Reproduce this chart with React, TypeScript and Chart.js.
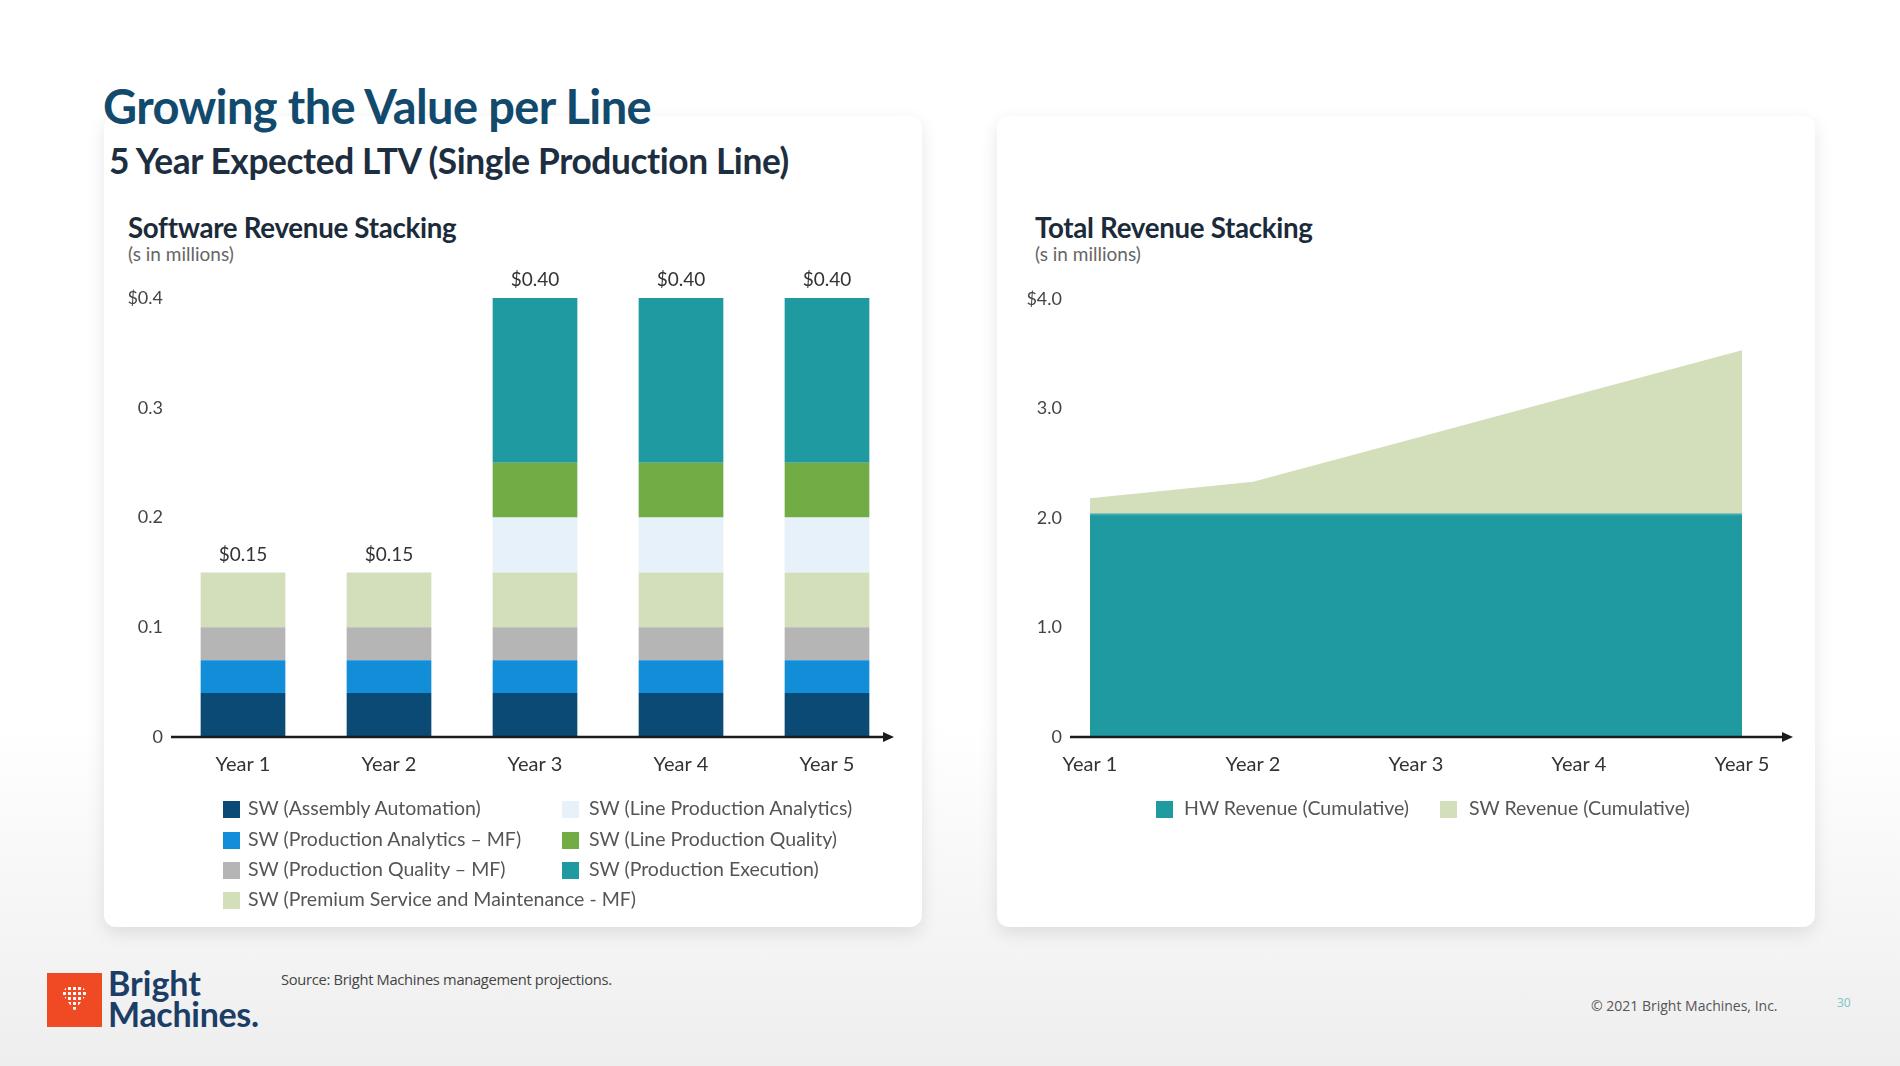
import React, { useEffect, useRef } from "react";
import { Chart, registerables } from "chart.js";

Chart.register(...registerables);

// ---------- DATA ----------
const years = ["Year 1", "Year 2", "Year 3", "Year 4", "Year 5"];

const swSeriesNames = [
  "SW (Assembly Automation)",
  "SW (Production Analytics – MF)",
  "SW (Production Quality – MF)",
  "SW (Premium Service and Maintenance - MF)",
  "SW (Line Production Analytics)",
  "SW (Line Production Quality)",
  "SW (Production Execution)",
];
const assemblyAutomation = [0.04, 0.04, 0.04, 0.04, 0.04];
const productionAnalyticsMF = [0.03, 0.03, 0.03, 0.03, 0.03];
const productionQualityMF = [0.03, 0.03, 0.03, 0.03, 0.03];
const premiumServiceMF = [0.05, 0.05, 0.05, 0.05, 0.05];
const lineProductionAnalytics = [0, 0, 0.05, 0.05, 0.05];
const lineProductionQuality = [0, 0, 0.05, 0.05, 0.05];
const productionExecution = [0, 0, 0.15, 0.15, 0.15];
const swColors = ["#0B4A75", "#128ED8", "#B5B5B5", "#D3DFBB", "#E6F1F9", "#71AC45", "#1F9AA1"];

const swYTickLabels: Record<string, string> = { "0": "0", "0.1": "0.1", "0.2": "0.2", "0.3": "0.3", "0.4": "$0.4" };

const totalSeriesNames = ["HW Revenue (Cumulative)", "SW Revenue (Cumulative)"];
const hwCumulative = [2.03, 2.03, 2.03, 2.03, 2.03];
const swCumulative = [0.15, 0.3, 0.7, 1.1, 1.5];
const totalColors = ["#1F9AA1", "#D3DFBA"];
const totalYTickLabels: Record<string, string> = { "0": "0", "1": "1.0", "2": "2.0", "3": "3.0", "4": "$4.0" };

// ---------- PLUGINS ----------
const arrowAxis = {
  id: "arrowAxis",
  afterDatasetsDraw(chart: any, _args: any, opts: any) {
    const { ctx, chartArea, scales } = chart;
    const y = scales.y.getPixelForValue(0);
    const x0 = chartArea.left + (opts.startOffset || 0);
    const x1 = chartArea.right + (opts.endOffset || 0);
    ctx.save();
    ctx.strokeStyle = "#1b1b1b";
    ctx.fillStyle = "#1b1b1b";
    ctx.lineWidth = 2.5;
    ctx.beginPath();
    ctx.moveTo(x0, y);
    ctx.lineTo(x1 - 8, y);
    ctx.stroke();
    ctx.beginPath();
    ctx.moveTo(x1, y);
    ctx.lineTo(x1 - 11, y - 5);
    ctx.lineTo(x1 - 11, y + 5);
    ctx.closePath();
    ctx.fill();
    ctx.restore();
  },
};

const totalsLabels = {
  id: "totalsLabels",
  afterDatasetsDraw(chart: any) {
    const { ctx, scales } = chart;
    const n = chart.data.labels.length;
    ctx.save();
    ctx.font = "19px Lato";
    ctx.fillStyle = "#333";
    ctx.textAlign = "center";
    ctx.textBaseline = "middle";
    for (let i = 0; i < n; i++) {
      let sum = 0;
      chart.data.datasets.forEach((d: any) => (sum += d.data[i]));
      const x = scales.x.getPixelForValue(i);
      const y = scales.y.getPixelForValue(sum) - 18;
      ctx.fillText("$" + sum.toFixed(2), x, y);
    }
    ctx.restore();
  },
};

function useChart(ref: React.RefObject<HTMLCanvasElement>, makeConfig: () => any) {
  useEffect(() => {
    if (!ref.current) return;
    const chart = new Chart(ref.current, makeConfig());
    return () => chart.destroy();
  }, []);
}

const tickFont = { family: "Lato", size: 18 };
const xFont = { family: "Lato", size: 20 };

function SoftwareChart() {
  const ref = useRef<HTMLCanvasElement>(null);
  useChart(ref, () => ({
    type: "bar",
    data: {
      labels: years,
      datasets: [
        assemblyAutomation,
        productionAnalyticsMF,
        productionQualityMF,
        premiumServiceMF,
        lineProductionAnalytics,
        lineProductionQuality,
        productionExecution,
      ].map((d, i) => ({
        label: swSeriesNames[i],
        data: d,
        backgroundColor: swColors[i],
        borderWidth: 0,
        barPercentage: 1,
        categoryPercentage: 0.58,
      })),
    },
    options: {
      animation: false,
      responsive: false,
      layout: { padding: { top: 38, right: 10, left: 0, bottom: 0 } },
      plugins: { legend: { display: false }, tooltip: { enabled: false }, arrowAxis: { startOffset: 1, endOffset: -6 } },
      scales: {
        x: {
          stacked: true,
          grid: { display: false, drawTicks: false },
          border: { display: false },
          ticks: { font: xFont, color: "#333", padding: 16 },
          afterFit: (s: any) => { s.height = 63; },
        },
        y: {
          stacked: true,
          min: 0,
          max: 0.4,
          grid: { display: false, drawTicks: false },
          border: { display: false },
          ticks: {
            stepSize: 0.1,
            font: tickFont,
            color: "#444",
            padding: 7,
            callback: (v: number) => swYTickLabels[String(Math.round(v * 10) / 10)] ?? "",
          },
          afterFit: (s: any) => { s.width = 60; },
        },
      },
    },
    plugins: [arrowAxis, totalsLabels],
  }));
  return <canvas ref={ref} width={800} height={540} style={{ position: "absolute", left: 110, top: 260 }} />;
}

function TotalChart() {
  const ref = useRef<HTMLCanvasElement>(null);
  useChart(ref, () => ({
    type: "line",
    data: {
      labels: years,
      datasets: [
        { label: totalSeriesNames[0], data: hwCumulative, backgroundColor: totalColors[0], borderColor: "#3AAAB0", borderWidth: 2, fill: "origin", pointRadius: 0, tension: 0 },
        { label: totalSeriesNames[1], data: swCumulative, backgroundColor: totalColors[1], borderColor: totalColors[1], borderWidth: 0, fill: "-1", pointRadius: 0, tension: 0 },
      ],
    },
    options: {
      animation: false,
      responsive: false,
      layout: { padding: { top: 38, right: 78, left: 0, bottom: 0 } },
      plugins: { legend: { display: false }, tooltip: { enabled: false }, arrowAxis: { startOffset: -20, endOffset: 51 } },
      scales: {
        x: {
          grid: { display: false, drawTicks: false },
          border: { display: false },
          offset: false,
          ticks: { font: xFont, color: "#333", padding: 16 },
          afterFit: (s: any) => { s.height = 63; },
        },
        y: {
          stacked: true,
          min: 0,
          max: 4,
          grid: { display: false, drawTicks: false },
          border: { display: false },
          ticks: {
            stepSize: 1,
            font: tickFont,
            color: "#444",
            padding: 28,
            callback: (v: number) => totalYTickLabels[String(Math.round(v))] ?? "",
          },
          afterFit: (s: any) => { s.width = 90; },
        },
      },
    },
    plugins: [arrowAxis],
  }));
  return <canvas ref={ref} width={820} height={540} style={{ position: "absolute", left: 1000, top: 260 }} />;
}

const abs = (left: number, top: number, extra: React.CSSProperties = {}): React.CSSProperties => ({
  position: "absolute",
  left,
  top,
  whiteSpace: "nowrap",
  ...extra,
});

const legendText: React.CSSProperties = { fontFamily: "Lato", fontSize: 19.5, color: "#555", lineHeight: "24px" };

function LegendItem({ x, y, color, label, textX }: { x: number; y: number; color: string; label: string; textX: number }) {
  return (
    <>
      <div style={abs(x, y - 8, { width: 17, height: 17, background: color })} />
      <div style={abs(textX, y - 13, legendText)}>{label}</div>
    </>
  );
}

export default function App() {
  const rowsY = [809, 840, 870, 900];
  return (
    <div
      style={{
        position: "fixed",
        left: 0,
        top: 0,
        width: 1900,
        height: 1066,
        overflow: "hidden",
        background: "linear-gradient(180deg, #ffffff 0%, #ffffff 68%, #eeeeee 100%)",
        fontFamily: "Lato, 'Open Sans', sans-serif",
      }}
    >
      {/* cards */}
      <div style={abs(104, 116, { width: 818, height: 811, background: "#fff", borderRadius: 12, boxShadow: "0 6px 18px rgba(0,0,0,0.10)" })} />
      <div style={abs(997, 116, { width: 818, height: 811, background: "#fff", borderRadius: 12, boxShadow: "0 6px 18px rgba(0,0,0,0.10)" })} />

      {/* headings */}
      <div style={abs(103, 79, { fontSize: 47, fontWeight: 700, color: "#114A6D", lineHeight: "54px", letterSpacing: -0.6 })}>Growing the Value per Line</div>
      <div style={abs(109, 141, { fontSize: 35.3, fontWeight: 700, color: "#1C2E40", lineHeight: "40px", letterSpacing: -0.4 })}>5 Year Expected LTV (Single Production Line)</div>

      <div style={abs(128, 212, { fontSize: 27.7, fontWeight: 700, color: "#1C2B3A", lineHeight: "32px", letterSpacing: -0.3 })}>Software Revenue Stacking</div>
      <div style={abs(128, 243, { fontSize: 19, color: "#666", lineHeight: "22px" })}>(s in millions)</div>
      <div style={abs(1035, 212, { fontSize: 27.7, fontWeight: 700, color: "#1C2B3A", lineHeight: "32px", letterSpacing: -0.3 })}>Total Revenue Stacking</div>
      <div style={abs(1035, 243, { fontSize: 19, color: "#666", lineHeight: "22px" })}>(s in millions)</div>

      <SoftwareChart />
      <TotalChart />

      {/* left legend (column-major) */}
      {swSeriesNames.slice(0, 4).map((n, i) => (
        <LegendItem key={n} x={223} y={rowsY[i]} color={swColors[i]} label={n} textX={248} />
      ))}
      {swSeriesNames.slice(4).map((n, i) => (
        <LegendItem key={n} x={562} y={rowsY[i]} color={swColors[i + 4]} label={n} textX={589} />
      ))}

      {/* right legend */}
      <LegendItem x={1156} y={809} color={totalColors[0]} label={totalSeriesNames[0]} textX={1184} />
      <LegendItem x={1440} y={809} color={totalColors[1]} label={totalSeriesNames[1]} textX={1469} />

      {/* footer */}
      <div style={abs(47, 973, { width: 55, height: 54, background: "#EF4A24" })}>
        <div
          style={{
            position: "absolute",
            left: 15,
            top: 13,
            width: 25,
            height: 25,
            backgroundImage: "radial-gradient(circle, #fff 1.4px, transparent 1.8px)",
            backgroundSize: "5px 5px",
            clipPath: "polygon(20% 0, 80% 0, 100% 30%, 50% 100%, 0 30%)",
          }}
        />
      </div>
      <div style={abs(108, 966, { fontSize: 34, fontWeight: 700, color: "#1B3D66", lineHeight: "34px" })}>Bright</div>
      <div style={abs(108, 997, { fontSize: 34, fontWeight: 700, color: "#1B3D66", lineHeight: "34px", letterSpacing: -0.3 })}>Machines.</div>
      <div style={abs(281, 969, { fontFamily: "'Open Sans'", fontSize: 14.7, color: "#444", lineHeight: "20px", letterSpacing: -0.3 })}>
        Source: Bright Machines management projections.
      </div>
      <div style={abs(1591, 996, { fontFamily: "'Open Sans'", fontSize: 14, color: "#555", lineHeight: "20px" })}>© 2021 Bright Machines, Inc.</div>
      <div style={abs(1837, 994, { fontFamily: "'Open Sans'", fontSize: 12, color: "#7DC3C6", lineHeight: "18px" })}>30</div>
    </div>
  );
}
